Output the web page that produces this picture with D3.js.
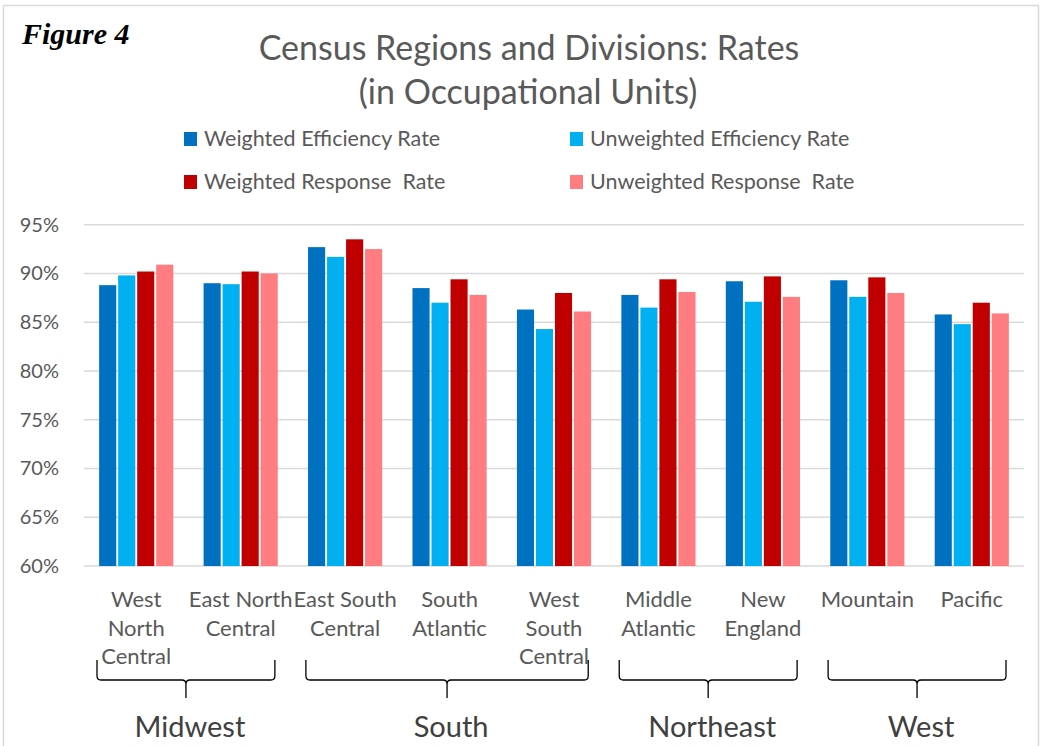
<!DOCTYPE html>
<html>
<head>
<meta charset="utf-8">
<script src="https://cdn.jsdelivr.net/npm/d3@7"></script>
<style>
  body { margin: 0; background: #fff; }
  svg { display: block; font-family: Lato, 'Open Sans', sans-serif; }
</style>
</head>
<body>
<div id="chart"></div>
<script>
// Divisions (label lines) and the region each belongs to
const divisions = [
  ['West', 'North', 'Central'],
  ['East North', 'Central'],
  ['East South', 'Central'],
  ['South', 'Atlantic'],
  ['West', 'South', 'Central'],
  ['Middle', 'Atlantic'],
  ['New', 'England'],
  ['Mountain'],
  ['Pacific']
];
const regions = ['Midwest', 'South', 'Northeast', 'West'];
const regionSpans = [[0, 1], [2, 4], [5, 6], [7, 8]];

const seriesNames = [
  'Weighted Efficiency Rate',
  'Unweighted Efficiency Rate',
  'Weighted Response  Rate',
  'Unweighted Response  Rate'
];
const weightedEfficiency = [88.8, 89.0, 92.7, 88.5, 86.3, 87.8, 89.2, 89.3, 85.8];
const unweightedEfficiency = [89.8, 88.9, 91.7, 87.0, 84.3, 86.5, 87.1, 87.6, 84.8];
const weightedResponse = [90.2, 90.2, 93.5, 89.4, 88.0, 89.4, 89.7, 89.6, 87.0];
const unweightedResponse = [90.9, 90.0, 92.5, 87.8, 86.1, 88.1, 87.6, 88.0, 85.9];
const yTicks = [60, 65, 70, 75, 80, 85, 90, 95];

const colors = ['#0070C0', '#00B0F0', '#C00000', '#FF7C80'];
const series = [weightedEfficiency, unweightedEfficiency, weightedResponse, unweightedResponse];

const width = 1042;
const height = 746;
const plot = { left: 84, right: 1024, top: 224.7, bottom: 566 };
const textGray = '#595959';

const svg = d3.select('#chart').append('svg')
  .attr('width', width)
  .attr('height', height);

// Chart frame
svg.append('rect')
  .attr('x', 3.5)
  .attr('y', 5.5)
  .attr('width', 1035)
  .attr('height', 760)
  .attr('fill', '#fff')
  .attr('stroke', '#d9d9d9')
  .attr('stroke-width', 1.5);

const x = d3.scaleBand()
  .domain(d3.range(divisions.length))
  .range([plot.left, plot.right])
  .paddingInner(0.29)
  .paddingOuter(0.145);

const xInner = d3.scaleBand()
  .domain(d3.range(series.length))
  .range([0, x.bandwidth()])
  .paddingInner(0.1);

const y = d3.scaleLinear()
  .domain([60, 95])
  .range([plot.bottom, plot.top]);

// Gridlines
svg.append('g')
  .selectAll('line')
  .data(yTicks)
  .join('line')
  .attr('x1', plot.left)
  .attr('x2', plot.right)
  .attr('y1', d => y(d))
  .attr('y2', d => y(d))
  .attr('stroke', '#d9d9d9')
  .attr('stroke-width', 1.5);

// Y axis labels
const yAxis = svg.append('g')
  .attr('transform', `translate(${plot.left - 22},0)`)
  .call(d3.axisLeft(y).tickValues(yTicks).tickSize(0).tickFormat(d => d + '%'));
yAxis.select('.domain').remove();
yAxis.selectAll('text')
  .attr('font-family', 'Lato, sans-serif')
  .attr('font-size', 20)
  .attr('fill', textGray);

// Bars
series.forEach((values, si) => {
  svg.append('g')
    .selectAll('rect')
    .data(values)
    .join('rect')
    .attr('x', (d, i) => x(i) + xInner(si))
    .attr('y', d => y(d))
    .attr('width', xInner.bandwidth())
    .attr('height', d => y(60) - y(d))
    .attr('fill', colors[si]);
});

// Division labels
const catLabels = svg.append('g')
  .selectAll('text')
  .data(divisions)
  .join('text')
  .attr('text-anchor', 'middle')
  .attr('font-size', 22)
  .attr('fill', textGray);
catLabels.selectAll('tspan')
  .data((d, i) => d.map(line => ({ line, i })))
  .join('tspan')
  .attr('x', d => x(d.i) + x.bandwidth() / 2)
  .attr('y', (d, j) => 607 + j * 28.5)
  .text(d => d.line);

// Region brackets
const step = x.step();
const bracketTop = 660;
const bracketMid = 680;
const bracketTip = 698;
const r = 4;
regionSpans.forEach((span, ri) => {
  const x0 = x(span[0]) - step * 0.145 + 13;
  const x1 = x(span[1]) + x.bandwidth() + step * 0.145 - 18;
  const cx = (x0 + x1) / 2;
  const p = d3.path();
  p.moveTo(x0, bracketTop);
  p.lineTo(x0, bracketMid - r);
  p.quadraticCurveTo(x0, bracketMid, x0 + r, bracketMid);
  p.lineTo(cx - r, bracketMid);
  p.quadraticCurveTo(cx, bracketMid, cx, bracketMid + r);
  p.lineTo(cx, bracketTip);
  p.moveTo(cx, bracketMid + r);
  p.quadraticCurveTo(cx, bracketMid, cx + r, bracketMid);
  p.lineTo(x1 - r, bracketMid);
  p.quadraticCurveTo(x1, bracketMid, x1, bracketMid - r);
  p.lineTo(x1, bracketTop);
  svg.append('path')
    .attr('d', p.toString())
    .attr('fill', 'none')
    .attr('stroke', '#000')
    .attr('stroke-width', 1.3);

  svg.append('text')
    .attr('x', cx + 4)
    .attr('y', 737)
    .attr('text-anchor', 'middle')
    .attr('font-size', 29)
    .attr('fill', '#404040')
    .text(regions[ri]);
});

// Title
svg.append('text')
  .attr('x', 529)
  .attr('y', 60)
  .attr('text-anchor', 'middle')
  .attr('font-size', 34)
  .attr('fill', textGray)
  .text('Census Regions and Divisions: Rates');
svg.append('text')
  .attr('x', 528)
  .attr('y', 104)
  .attr('text-anchor', 'middle')
  .attr('font-size', 34)
  .attr('fill', textGray)
  .text('(in Occupational Units)');

svg.append('text')
  .attr('x', 22)
  .attr('y', 44)
  .attr('font-family', "'Liberation Serif', 'Times New Roman', serif")
  .attr('font-weight', 'bold')
  .attr('font-style', 'italic')
  .attr('font-size', 30)
  .attr('fill', '#000')
  .text('Figure 4');

// Legend
const legendPos = [[184, 139], [570, 139], [184, 182], [570, 182]];
const legend = svg.append('g')
  .selectAll('g')
  .data(seriesNames)
  .join('g')
  .attr('transform', (d, i) => `translate(${legendPos[i][0]},${legendPos[i][1]})`);
legend.append('rect')
  .attr('x', 0)
  .attr('y', -7)
  .attr('width', 13)
  .attr('height', 14)
  .attr('fill', (d, i) => colors[i]);
legend.append('text')
  .attr('x', 20)
  .attr('y', 7)
  .attr('font-size', 21.5)
  .attr('fill', textGray)
  .attr('xml:space', 'preserve')
  .style('white-space', 'pre')
  .text(d => d);
</script>
</body>
</html>
